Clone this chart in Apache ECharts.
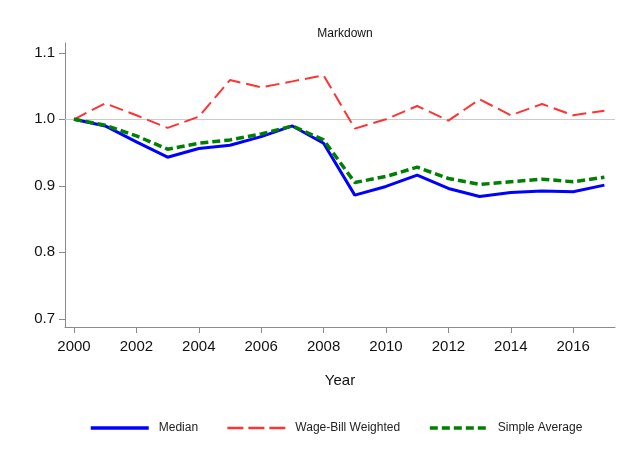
<!doctype html>
<html lang="en">
<head>
    <meta charset="UTF-8">
    <title>Markdown</title>
    <script src="https://cdn.jsdelivr.net/npm/echarts@6/dist/echarts.min.js"></script>
    <style>
        html, body {margin: 0; padding: 0; background: #fff;}
        #main {width: 622px; height: 456px;}
    </style>
</head>
<body>
<div id="main"></div>
<script type="text/javascript">
    // data
    var years = [2000, 2001, 2002, 2003, 2004, 2005, 2006, 2007, 2008,
        2009, 2010, 2011, 2012, 2013, 2014, 2015, 2016, 2017];
    var median = [1.000, 0.990, 0.966, 0.943, 0.956, 0.961, 0.974, 0.990, 0.964,
        0.886, 0.899, 0.916, 0.896, 0.884, 0.890, 0.892, 0.891, 0.901];
    var wageBill = [1.000, 1.024, 1.006, 0.987, 1.004, 1.059, 1.048, 1.057, 1.066,
        0.986, 1.000, 1.020, 0.998, 1.030, 1.006, 1.023, 1.006, 1.013];
    var simpleAvg = [1.000, 0.991, 0.975, 0.955, 0.964, 0.969, 0.978, 0.990, 0.969,
        0.905, 0.914, 0.928, 0.911, 0.902, 0.906, 0.910, 0.906, 0.913];
    var xTicks = [2000, 2002, 2004, 2006, 2008, 2010, 2012, 2014, 2016];
    var yTicks = [0.7, 0.8, 0.9, 1.0, 1.1];

    function pairs(vals) {
        var out = [];
        for (var i = 0; i < years.length; i++) {
            out.push([years[i], vals[i]]);
        }
        return out;
    }

    var font = 'Liberation Sans, Arial, sans-serif';
    var axisGray = '#8a8a8a';

    var myChart = echarts.init(document.getElementById('main'));

    var option = {
        animation: false,
        backgroundColor: '#fff',
        title: {
            text: 'Markdown',
            left: 340,
            top: 23,
            textAlign: 'center',
            textStyle: {fontFamily: font, fontSize: 12, fontWeight: 'normal', color: '#111'}
        },
        grid: {left: 65, right: 7, top: 43, bottom: 129, containLabel: false},
        legend: {
            left: 84,
            top: 417,
            itemWidth: 58,
            itemHeight: 14,
            itemGap: 28,
            itemStyle: {opacity: 0},
            textStyle: {fontFamily: font, fontSize: 12, color: '#222', padding: [0, 0, 0, 5]},
            data: [
                {name: 'Median', lineStyle: {width: 3.5}},
                {name: 'Wage-Bill Weighted', lineStyle: {width: 2.5, type: [16, 5]}},
                {name: 'Simple Average', lineStyle: {width: 3.5}}
            ]
        },
        xAxis: {
            type: 'value',
            min: 1999.712,
            max: 2017.34,
            name: 'Year',
            nameLocation: 'middle',
            nameGap: 46,
            nameTextStyle: {fontFamily: font, fontSize: 15, color: '#111'},
            axisLine: {lineStyle: {color: axisGray, width: 1}},
            axisTick: {show: true, length: 6, customValues: xTicks, lineStyle: {color: axisGray}},
            axisLabel: {
                customValues: xTicks,
                margin: 12,
                fontFamily: font, fontSize: 15, color: '#111',
                formatter: function (v) { return String(v); }
            },
            splitLine: {show: false}
        },
        yAxis: {
            type: 'value',
            min: 0.6877,
            max: 1.1147,
            axisLine: {show: true, lineStyle: {color: axisGray, width: 1}},
            axisTick: {show: true, length: 6, customValues: yTicks, lineStyle: {color: axisGray}},
            axisLabel: {
                customValues: yTicks,
                margin: 10,
                fontFamily: font, fontSize: 15, color: '#111',
                formatter: function (v) { return v.toFixed(1); }
            },
            splitLine: {show: false}
        },
        series: [
            {
                name: 'Median',
                type: 'line',
                symbol: 'none',
                data: pairs(median),
                lineStyle: {color: '#0000ff', width: 3},
                itemStyle: {color: '#0000ff'},
                z: 3,
                markLine: {
                    silent: true,
                    symbol: ['none', 'none'],
                    z: 1,
                    label: {show: false},
                    lineStyle: {color: '#cccccc', width: 1, type: 'solid'},
                    data: [{yAxis: 1.0}]
                }
            },
            {
                name: 'Wage-Bill Weighted',
                type: 'line',
                symbol: 'none',
                data: pairs(wageBill),
                lineStyle: {color: '#ff3333', width: 2, type: [14, 6]},
                itemStyle: {color: '#ff3333'},
                z: 2
            },
            {
                name: 'Simple Average',
                type: 'line',
                symbol: 'none',
                data: pairs(simpleAvg),
                lineStyle: {color: '#008000', width: 3.5, type: [8, 4]},
                itemStyle: {color: '#008000'},
                z: 4
            }
        ]
    };

    myChart.setOption(option);
</script>
</body>
</html>
